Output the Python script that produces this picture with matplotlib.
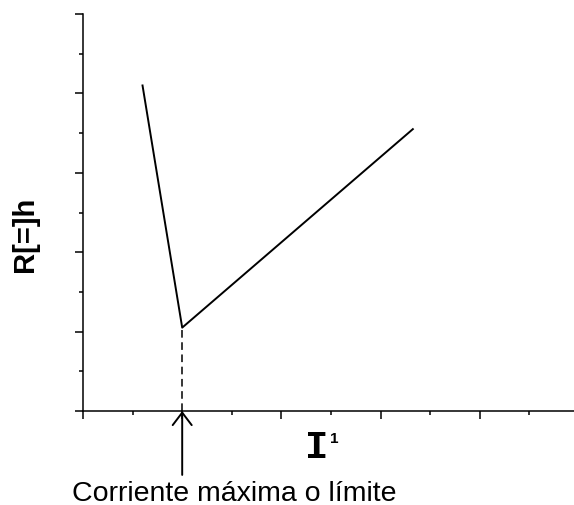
import matplotlib
matplotlib.use('Agg')
import matplotlib.pyplot as plt
from matplotlib.ticker import MultipleLocator

# curve points (I^-1, R)
x_vals = [1.2, 2.0, 6.65]
y_vals = [8.2, 2.1, 7.1]
x_lim = 2.0  # corriente maxima
y_lim = 2.1

plt.rcParams['font.family'] = ['Liberation Sans', 'DejaVu Sans']

fig = plt.figure(figsize=(5.74, 5.06), dpi=100)
ax = fig.add_axes([83 / 574, 94 / 506, 496 / 574, 397 / 506])

ax.plot(x_vals, y_vals, color='black', lw=1.4)
ax.plot([x_lim, x_lim], [0, y_lim], color='black', lw=1.1, ls=(0, (5, 3)))

ax.set_xlim(0, 10)
ax.set_ylim(0, 10)
for s in ['top', 'right']:
    ax.spines[s].set_visible(False)
ax.spines['left'].set_linewidth(1.1)
ax.spines['bottom'].set_linewidth(1.1)
ax.xaxis.set_major_locator(MultipleLocator(2))
ax.xaxis.set_minor_locator(MultipleLocator(1))
ax.yaxis.set_major_locator(MultipleLocator(2))
ax.yaxis.set_minor_locator(MultipleLocator(1))
ax.tick_params(which='major', length=6, width=1.1, labelbottom=False, labelleft=False)
ax.tick_params(which='minor', length=3, width=1.1)

# arrow pointing at the limit
ax.annotate('', xy=(x_lim, 0), xytext=(x_lim, -1.61),
            arrowprops=dict(arrowstyle='->,head_length=0.5,head_width=0.38',
                            color='black', lw=1.4,
                            mutation_scale=18, shrinkA=0, shrinkB=0),
            annotation_clip=False)
fig.text(234 / 574, (506 - 501) / 506, 'Corriente máxima o límite',
         ha='center', va='baseline', fontsize=20.5)

# axis labels
fig.text(317 / 574, (506 - 458) / 506, 'I', ha='center', va='baseline',
         fontsize=28, fontweight='bold', family='Liberation Mono')
fig.text(330 / 574, (506 - 443) / 506, '1', ha='left', va='baseline',
         fontsize=11, fontweight='bold')
fig.text(25 / 574, (506 - 234) / 506, 'R[=]h', rotation=90, ha='center', va='center',
         fontsize=21, fontweight='bold')

fig.savefig('out.png', dpi=100)
